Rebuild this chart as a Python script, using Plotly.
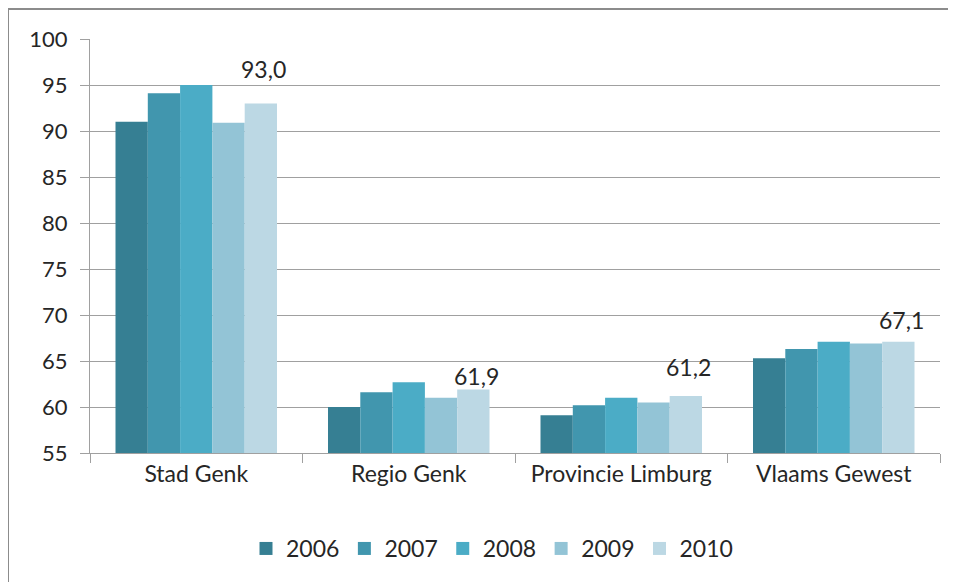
import plotly.graph_objects as go

categories = ["Stad Genk", "Regio Genk", "Provincie Limburg", "Vlaams Gewest"]
years = ["2006", "2007", "2008", "2009", "2010"]
v2006 = [91.0, 60.0, 59.1, 65.3]
v2007 = [94.1, 61.6, 60.2, 66.3]
v2008 = [95.0, 62.7, 61.0, 67.1]
v2009 = [90.9, 61.0, 60.5, 66.9]
v2010 = [93.0, 61.9, 61.2, 67.1]
series = [v2006, v2007, v2008, v2009, v2010]
colors = ["#367F93", "#4196AE", "#4BACC6", "#93C4D6", "#BCD8E4"]
label_yshift = [20, 0, 15, 8]

fig = go.Figure()
for name, vals, col in zip(years, series, colors):
    fig.add_trace(go.Bar(x=categories, y=vals, name=name, marker_color=col,
                         marker_line_width=0, showlegend=False))
    fig.add_trace(go.Scatter(x=[None], y=[None], mode="markers", name=name,
                             marker=dict(symbol="square", size=13, color=col)))

family = "Lato, Open Sans, sans-serif"
tickfont = dict(family=family, size=22, color="#262626")
bigfont = dict(family=family, size=23, color="#262626")

# page body offsets the figure by 8px, so margins compensate
L, R, T, B = 82, 24, 31, 137
W, H = 956, 582
plot_w = W - L - R
plot_h = H - T - B
bargap = 0.24
bar_w = plot_w / len(categories) * (1 - bargap) / len(years)
for cat, val, ys in zip(categories, v2010, label_yshift):
    fig.add_annotation(x=cat, y=val, text=f"{val:.1f}".replace(".", ","),
                       showarrow=False, xshift=2 * bar_w + 3, yshift=ys - 2,
                       yanchor="bottom", font=bigfont)

fig.update_layout(
    width=W, height=H,
    barmode="group", bargap=bargap, bargroupgap=0,
    plot_bgcolor="white", paper_bgcolor="white",
    margin=dict(l=L, r=R, t=T, b=B),
    font=bigfont,
    legend=dict(orientation="h", x=(484 - L) / plot_w, xanchor="center",
                y=-(519 - (H - B)) / plot_h, yanchor="top",
                font=bigfont, tracegroupgap=0),
    xaxis=dict(showline=True, linecolor="#A0A0A0", linewidth=1,
               ticks="outside", ticklen=9, tickcolor="#A0A0A0",
               tickson="boundaries", tickfont=bigfont, showgrid=False,
               automargin=False),
    yaxis=dict(range=[55, 100], dtick=5, showline=True, linecolor="#A0A0A0",
               linewidth=1, ticks="outside", ticklen=9, tickcolor="#A0A0A0",
               gridcolor="#A0A0A0", gridwidth=1, tickfont=tickfont,
               ticklabelstandoff=8, zeroline=False, automargin=False),
    shapes=[dict(type="rect", xref="paper", yref="paper",
                 x0=(0 - L) / plot_w, x1=(W + 40 - L) / plot_w,
                 y0=-(H + 40 - (H - B)) / plot_h, y1=(H - B - 1) / plot_h,
                 line=dict(color="#8C8C8C", width=2), fillcolor="rgba(0,0,0,0)",
                 layer="below")],
)

fig.write_html("out.html")
